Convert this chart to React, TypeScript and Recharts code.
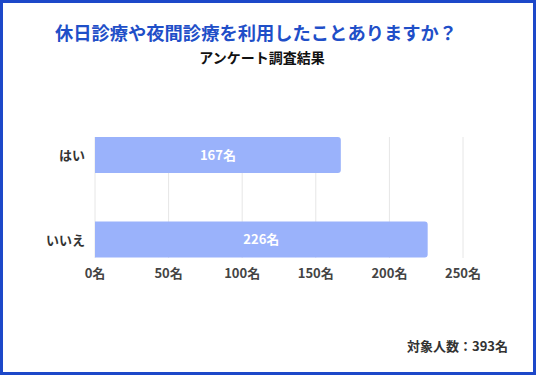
import { BarChart, Bar, XAxis, YAxis, CartesianGrid, LabelList } from 'recharts'

const categories = ['はい', 'いいえ']
const counts = [167, 226]
const xTicks = [0, 50, 100, 150, 200, 250]
const total = 393

const data = categories.map((name, i) => ({ name, value: counts[i] }))

const FONT = '"Noto Sans CJK JP", "Noto Sans", sans-serif'

function XTick({ x, y, payload }: any) {
  return (
    <text x={x} y={y - 4} textAnchor="middle" fill="#444" fontSize={13} fontWeight={700} fontFamily={FONT}>
      {payload.value}名
    </text>
  )
}

function YTick({ x, y, payload }: any) {
  return (
    <text x={x} y={y} dy={5} textAnchor="end" fill="#333" fontSize={13} fontWeight={700} fontFamily={FONT}>
      {payload.value}
    </text>
  )
}

export default function App() {
  return (
    <div
      style={{
        position: 'absolute', top: 0, left: 0, width: 536, height: 375,
        boxSizing: 'border-box', border: '3px solid #1d48c9', background: '#fff',
        fontFamily: FONT,
      }}
    >
      <div style={{ position: 'absolute', top: 18, left: -12, width: 530, textAlign: 'center', fontSize: 18.3, fontWeight: 700, color: '#1f4fc8', lineHeight: '22px' }}>
        休日診療や夜間診療を利用したことありますか？
      </div>
      <div style={{ position: 'absolute', top: 45, left: -6, width: 530, textAlign: 'center', fontSize: 14, fontWeight: 700, color: '#111', lineHeight: '18px' }}>
        アンケート調査結果
      </div>
      <div style={{ position: 'absolute', top: 334, right: 25, fontSize: 13, fontWeight: 700, color: '#333', lineHeight: '18px' }}>
        対象人数：{total}名
      </div>
      <div style={{ position: 'absolute', top: -3, left: -3 }}>
        <BarChart
          width={536}
          height={375}
          data={data}
          layout="vertical"
          margin={{ top: 113, right: 73, bottom: 92, left: 3 }}
          barSize={36}
        >
          <CartesianGrid horizontal={false} stroke="#e6e6e6" y={137} height={121} />
          <XAxis
            type="number"
            domain={[0, 250]}
            ticks={xTicks}
            axisLine={false}
            tickLine={false}
            tickSize={0}
            tickMargin={0}
            height={1}
            tick={<XTick />}
            interval={0}
          />
          <YAxis
            type="category"
            dataKey="name"
            width={92}
            axisLine={false}
            tickLine={false}
            tickSize={0}
            tickMargin={10}
            tick={<YTick />}
          />
          <Bar dataKey="value" fill="#9ab2fb" radius={[0, 3, 3, 0]} isAnimationActive={false}>
            <LabelList
              dataKey="value"
              position="center"
              fill="#fff"
              fontSize={13}
              fontWeight={700}
              fontFamily={FONT}
              formatter={(v: any) => `${v}名`}
            />
          </Bar>
        </BarChart>
      </div>
    </div>
  )
}
